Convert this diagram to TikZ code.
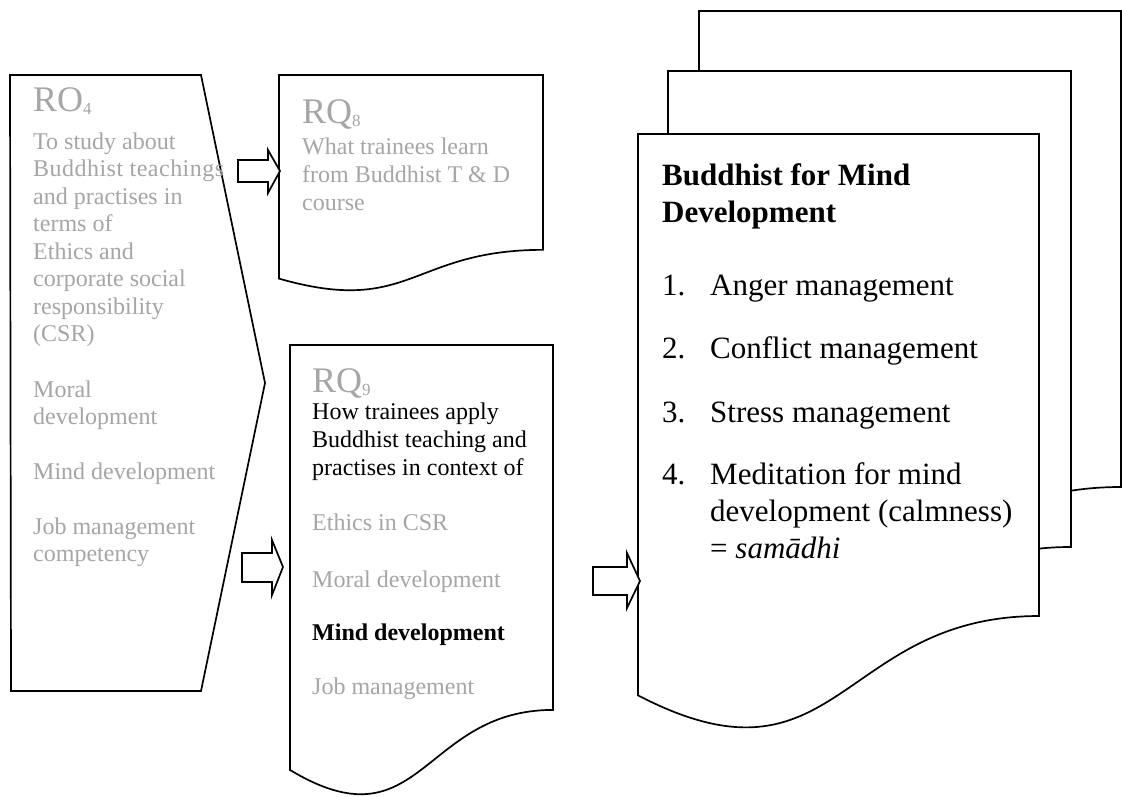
\documentclass[tikz,border=0pt]{standalone}
\usepackage{fontspec}
\setmainfont{Liberation Serif}
\newcommand\docpath[4]{(#1,#2) -- ({#1+#3},#2) -- ({#1+#3},{#2+0.802*#4}) .. controls ({#1+#3/2},{#2+0.802*#4}) and ({#1+#3/2},{#2+1.1075*#4}) .. (#1,{#2+0.934*#4}) -- cycle}
\newcommand\rqsub[1]{\raisebox{-3pt}{\fontsize{17}{17}\selectfont #1}}
\begin{document}
\begin{tikzpicture}[x=1pt,y=-1pt,
  shapeline/.style={draw=black, line width=1.7pt, fill=white, line join=miter},
  blockarr/.style={draw=black, line width=1.7pt, fill=white, line join=miter},
  graytxt/.style={text=black!35, anchor=base west, inner sep=0pt, font=\fontsize{24}{28}\selectfont},
  blacktxt/.style={text=black, anchor=base west, inner sep=0pt, font=\fontsize{24}{28}\selectfont},
  rqlabel/.style={text=black!35, anchor=base west, inner sep=0pt, font=\fontsize{36}{40}\selectfont},
  bigtxt/.style={text=black, anchor=base west, inner sep=0pt, font=\fontsize{31}{37}\selectfont}]
\useasboundingbox (0,0) rectangle (1122,796);

% RO4 chevron
\draw[shapeline] (10,75) -- (201,75) -- (265,383) -- (201,691) -- (11,691) -- cycle;
\coordinate (ro4) at (10,75);

% RQ8 document
\draw[shapeline] \docpath{279}{75}{264}{218};
\coordinate (rq8) at (279,75);

% RQ9 document
\draw[shapeline] \docpath{290}{345}{263}{455};
\coordinate (rq9) at (290,345);

% stacked documents
\draw[shapeline] \docpath{699}{11}{422}{593.5};
\draw[shapeline] \docpath{668}{71}{403}{593.5};
\draw[shapeline] \docpath{638}{134}{401}{601};
\coordinate (bmd) at (638,134);

% block arrows
\draw[blockarr] (238,160) -- (268,160) -- (268,150) -- (280,171) -- (268,193) -- (268,182) -- (238,182) -- cycle;
\draw[blockarr] (242,553) -- (272,553) -- (272,540) -- (283,567) -- (272,595) -- (272,582) -- (242,582) -- cycle;
\draw[blockarr] (593,567) -- (627,567) -- (627,553) -- (640,581) -- (627,608) -- (627,595) -- (593,595) -- cycle;

% RO4 text
\node[rqlabel] (t-ro4) at (33,111) {RO\rqsub{4}};
\node[graytxt] (t-ro4a) at (33,149) {To study about};
\node[graytxt] (t-ro4b) at (33,176.5) {\addfontfeature{LetterSpace=2}Buddhist teachings};
\node[graytxt] (t-ro4c) at (33,204) {and practises in};
\node[graytxt] (t-ro4d) at (33,231.5) {terms of};
\node[graytxt] (t-ro4e) at (33,259) {Ethics and};
\node[graytxt] (t-ro4f) at (33,286.5) {corporate social};
\node[graytxt] (t-ro4g) at (33,314) {responsibility};
\node[graytxt] (t-ro4h) at (33,341.5) {(CSR)};
\node[graytxt] (t-ro4i) at (33,397) {Moral};
\node[graytxt] (t-ro4j) at (33,424.5) {development};
\node[graytxt] (t-ro4k) at (33,479) {Mind development};
\node[graytxt] (t-ro4l) at (33,534) {Job management};
\node[graytxt] (t-ro4m) at (33,561.5) {competency};

% RQ8 text
\node[rqlabel] (t-rq8) at (302,123) {RQ\rqsub{8}};
\node[graytxt] (t-rq8a) at (302,154) {What trainees learn};
\node[graytxt] (t-rq8b) at (302,182) {from Buddhist T \& D};
\node[graytxt] (t-rq8c) at (302,210) {course};

% RQ9 text
\node[rqlabel] (t-rq9) at (312,392) {RQ\rqsub{9}};
\node[blacktxt] (t-rq9a) at (312,419) {How trainees apply};
\node[blacktxt] (t-rq9b) at (312,447) {Buddhist teaching and};
\node[blacktxt] (t-rq9c) at (312,475) {practises in context of};
\node[graytxt] (t-rq9d) at (312,530) {Ethics in CSR};
\node[graytxt] (t-rq9e) at (312,587) {Moral development};
\node[blacktxt, font=\fontsize{24}{28}\selectfont\bfseries] (t-rq9f) at (312,640) {Mind development};
\node[graytxt] (t-rq9g) at (312,694) {Job management};

% Buddhist for Mind Development text
\node[bigtxt, font=\fontsize{31}{37}\selectfont\bfseries] (t-bt1) at (662,185) {Buddhist for Mind};
\node[bigtxt, font=\fontsize{31}{37}\selectfont\bfseries] (t-bt2) at (662,222) {Development};
\node[bigtxt] (n1) at (662,295) {1.};
\node[bigtxt] (i1) at (710,295) {Anger management};
\node[bigtxt] (n2) at (662,358) {2.};
\node[bigtxt] (i2) at (710,358) {Conflict management};
\node[bigtxt] (n3) at (662,422) {3.};
\node[bigtxt] (i3) at (710,422) {Stress management};
\node[bigtxt] (n4) at (662,484) {4.};
\node[bigtxt] (i4a) at (710,484) {Meditation for mind};
\node[bigtxt] (i4b) at (710,521) {development (calmness)};
\node[bigtxt] (i4c) at (710,558) {= \textit{samādhi}};
\end{tikzpicture}
\end{document}
